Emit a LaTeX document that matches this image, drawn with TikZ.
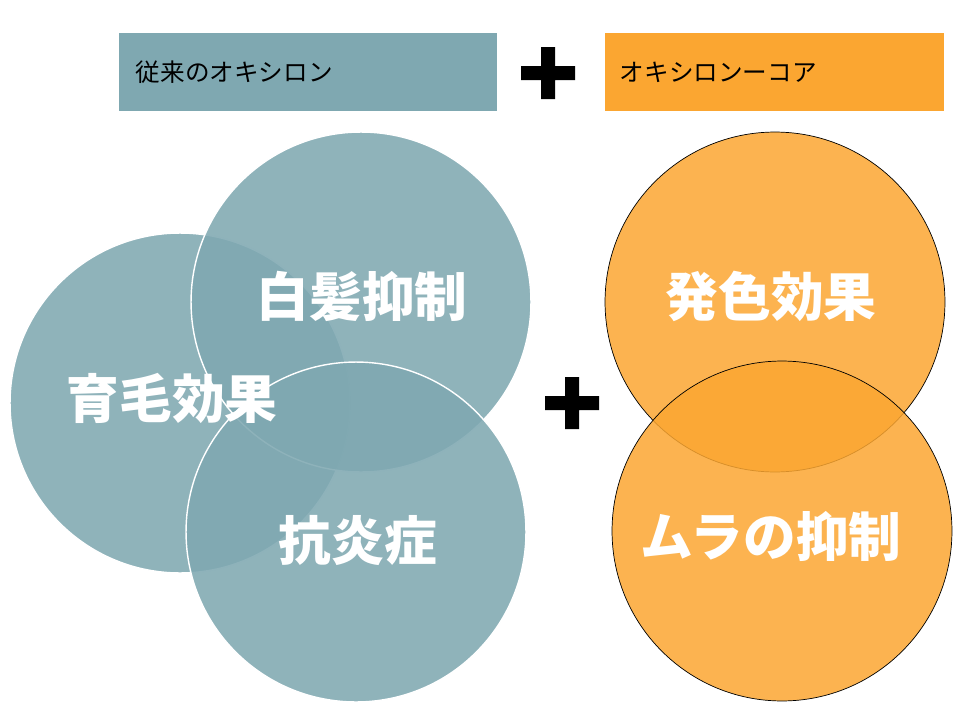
\documentclass[tikz,border=0pt]{standalone}
\usepackage{fontspec}
\newfontfamily\jp{Noto Sans CJK JP}
\definecolor{teal1}{HTML}{7FA8B1}
\definecolor{orng}{HTML}{FBA631}
\tikzset{
  hdr/.style={minimum width=7.56cm,minimum height=1.56cm,inner sep=0pt,font=\jp\fontsize{14}{16}\selectfont},
  tcirc/.style={circle,minimum size=6.8cm,fill=teal1,fill opacity=0.88,draw=white,thick},
  ocirc/.style={circle,minimum size=6.8cm,fill=orng,fill opacity=0.85,draw=black,thin},
  lbl/.style={text=white,font=\jp\bfseries\fontsize{30}{34}\selectfont},
  plus/.style={fill=black}
}
\begin{document}
\begin{tikzpicture}[x=0.02cm,y=-0.02cm]
\useasboundingbox (0,0) rectangle (960,720);
\node[hdr,fill=teal1,anchor=north west,text width=6.9cm] (old) at (119,33) {従来のオキシロン};
\node[hdr,fill=orng,anchor=north west,minimum width=6.78cm,text width=6.2cm] (core) at (605,33) {オキシロンーコア};
% plus signs
\fill[plus] (521,66) rectangle (575,80) (541,47) rectangle (555,99);
\fill[plus] (545,396) rectangle (599,410) (565,377) rectangle (579,429);
% teal circles
\node[tcirc] (grow) at (180,403) {};
\node[tcirc] (white) at (361,302) {};
\node[tcirc] (anti) at (356,532) {};
\node[lbl] (whitet) at (362,296) {白髪抑制};
\node[lbl] (growt) at (172,398) {育毛効果};
\node[lbl] (antit) at (358,540) {抗炎症};
% orange circles
\node[ocirc] (color) at (775,302) {};
\node[ocirc] (even) at (782,531) {};
\node[lbl] (colort) at (771,296) {発色効果};
\node[lbl] (event) at (771,536) {ムラの抑制};
\end{tikzpicture}
\end{document}
